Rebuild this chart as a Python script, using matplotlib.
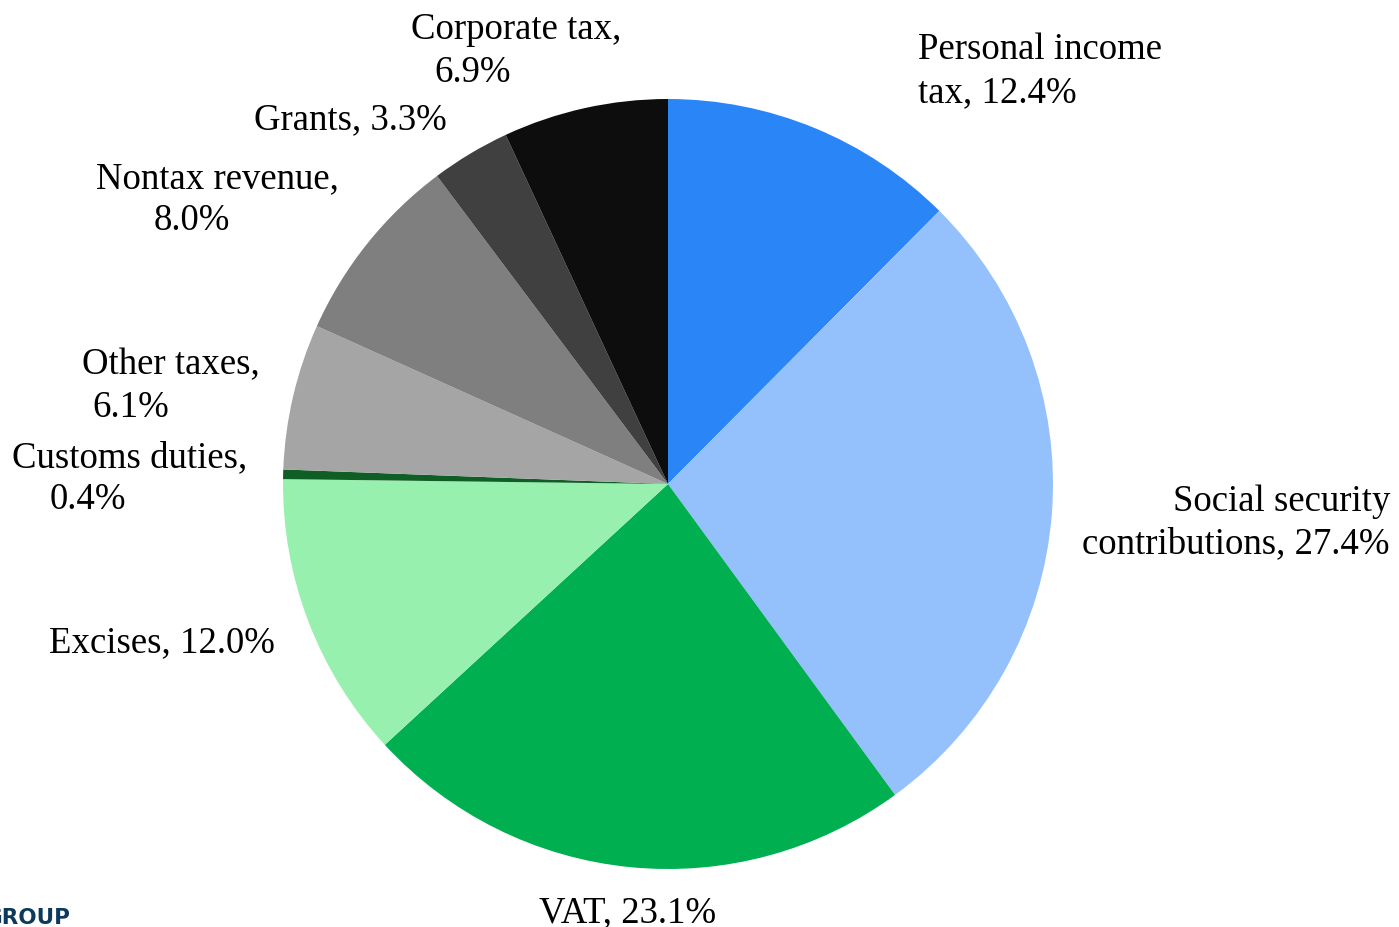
import numpy as np
import matplotlib.pyplot as plt

# revenue structure, shares in %
categories = ['Personal income tax', 'Social security contributions', 'VAT', 'Excises',
              'Customs duties', 'Other taxes', 'Nontax revenue', 'Grants', 'Corporate tax']
shares = [12.4, 27.4, 23.1, 12.0, 0.4, 6.1, 8.0, 3.3, 6.9]
colors = ['#2A86F6', '#94C1FB', '#00AF50', '#97F0AE', '#0F5E25',
          '#A5A5A5', '#7F7F7F', '#404040', '#0D0D0D']

# label lines as in the original (text, x px, y px, ha)
label_lines = [
    ('Personal income', 918, 47, 'left'),
    ('tax, 12.4%', 918, 90, 'left'),
    ('Social security', 1390, 499, 'right'),
    ('contributions, 27.4%', 1390, 541, 'right'),
    ('VAT, 23.1%', 628, 910, 'center'),
    ('Excises, 12.0%', 162, 640, 'center'),
    ('Customs duties,', 12, 455, 'left'),
    ('0.4%', 50, 497, 'left'),
    ('Other taxes,', 82, 362, 'left'),
    ('6.1%', 92, 405, 'left'),
    ('Nontax revenue,', 217, 176, 'center'),
    ('8.0%', 192, 218, 'center'),
    ('Grants, 3.3%', 350, 117, 'center'),
    ('Corporate tax,', 516, 27, 'center'),
    ('6.9%', 473, 70, 'center'),
]

W, H = 1399, 928
cx, cy, r = 668, 485, 385

plt.rcParams['font.family'] = ['Liberation Serif', 'DejaVu Serif']

fig = plt.figure(figsize=(W / 100, H / 100), dpi=100)
ax = fig.add_axes([(cx - r) / W, (H - cy - r) / H, 2 * r / W, 2 * r / H])
ax.pie(shares, colors=colors, startangle=90, counterclock=False, radius=1,
       wedgeprops=dict(linewidth=0))
ax.set_xlim(-1, 1)
ax.set_ylim(-1, 1)
ax.set_aspect('equal')
ax.axis('off')

for txt, px, py, ha in label_lines:
    fig.text(px / W, 1 - (py + 3) / H, txt, ha=ha, va='center', fontsize=26.5, color='black')

# logo fragment, cut off at the left edge as in the original
fig.text(71 / W, 1 - 918 / H, 'GROUP', ha='right', va='center', fontsize=15.5,
         fontweight='bold', color='#0B3A5C', family='DejaVu Sans')

fig.savefig('out.png', dpi=100)
